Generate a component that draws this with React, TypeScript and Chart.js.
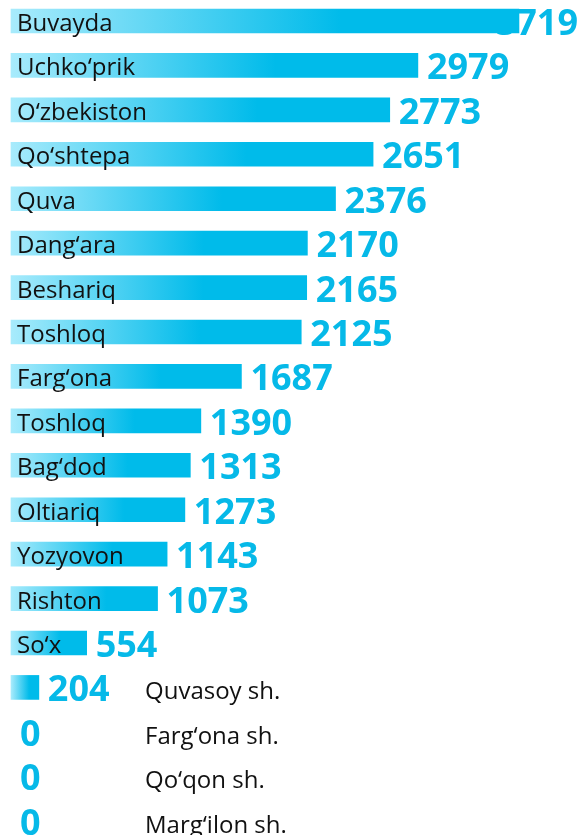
import React, { useEffect, useRef } from "react";
import { Chart, registerables } from "chart.js";

Chart.register(...registerables);

const categories = [
  "Buvayda",
  "Uchko‘prik",
  "O‘zbekiston",
  "Qo‘shtepa",
  "Quva",
  "Dang‘ara",
  "Beshariq",
  "Toshloq",
  "Farg‘ona",
  "Toshloq",
  "Bag‘dod",
  "Oltiariq",
  "Yozyovon",
  "Rishton",
  "So‘x",
  "Quvasoy sh.",
  "Farg‘ona sh.",
  "Qo‘qon sh.",
  "Marg‘ilon sh.",
];

const values = [3719, 2979, 2773, 2651, 2376, 2170, 2165, 2125, 1687, 1390, 1313, 1273, 1143, 1073, 554, 204, 0, 0, 0];

const X_MAX = 4100;
const LIGHT = "#a8ebfc";
const CYAN = "#00bbea";
const VALUE_COLOR = "#06b9e8";
const VALUE_FONT = "bold 36px 'Open Sans', 'Noto Sans', sans-serif";
const LABEL_FONT = "24px 'Open Sans', 'Noto Sans', sans-serif";

const labelPlugin = {
  id: "barLabels",
  beforeDatasetsDraw(chart: any) {
    const { ctx, scales, width } = chart;
    ctx.save();
    ctx.font = VALUE_FONT;
    ctx.fillStyle = VALUE_COLOR;
    ctx.textAlign = "left";
    ctx.textBaseline = "alphabetic";
    values.forEach((v, i) => {
      const end = scales.x.getPixelForValue(v);
      const y = scales.y.getPixelForValue(i);
      const text = String(v);
      const w = ctx.measureText(text).width;
      let x = end + 9;
      if (x + w > width - 4) x = width - 4 - w;
      ctx.fillText(text, x, y + 14);
    });
    ctx.restore();
  },
  afterDatasetsDraw(chart: any) {
    const { ctx, scales } = chart;
    ctx.save();
    ctx.font = LABEL_FONT;
    ctx.fillStyle = "#111111";
    ctx.textAlign = "left";
    ctx.textBaseline = "alphabetic";
    categories.forEach((label, i) => {
      const x0 = scales.x.getPixelForValue(0);
      const x1 = scales.x.getPixelForValue(values[i]);
      const y = scales.y.getPixelForValue(i);
      const w = ctx.measureText(label).width;
      const inside = x1 - x0 >= w * 0.6 + 10;
      ctx.fillText(label, inside ? x0 + 6 : 145, y + (inside ? 10 : 12));
    });
    ctx.restore();
  },
};

function barFill(c: any) {
  const chart = c.chart;
  const sx = chart && chart.scales && chart.scales.x;
  if (!sx || c.type !== "data") return CYAN;
  const v = values[c.dataIndex];
  if (!v) return "rgba(0,0,0,0)";
  const x0 = sx.getPixelForValue(0);
  const x1 = sx.getPixelForValue(v);
  if (!isFinite(x0) || !isFinite(x1) || x1 - x0 < 1) return CYAN;
  const g = chart.ctx.createLinearGradient(x0, 0, x1, 0);
  g.addColorStop(0, LIGHT);
  g.addColorStop(0.65, CYAN);
  g.addColorStop(1, CYAN);
  return g;
}

export default function App() {
  const ref = useRef<HTMLCanvasElement | null>(null);

  useEffect(() => {
    if (!ref.current) return;
    const chart = new Chart(ref.current, {
      type: "bar",
      data: {
        labels: categories,
        datasets: [
          {
            data: values,
            barThickness: 24,
            clip: false as any,
            borderWidth: 0,
            backgroundColor: barFill,
          },
        ],
      },
      options: {
        indexAxis: "y",
        animation: false,
        responsive: false,
        maintainAspectRatio: false,
        events: [],
        layout: { padding: { left: 11, right: 11, top: 21, bottom: 14.3 } },
        plugins: {
          legend: { display: false },
          tooltip: { enabled: false },
          title: { display: false },
        },
        scales: {
          x: { type: "linear", min: 0, max: X_MAX, display: false },
          y: { type: "category", offset: false, display: false },
        },
      },
      plugins: [labelPlugin],
    });
    return () => chart.destroy();
  }, []);

  return (
    <div style={{ position: "absolute", left: 0, top: 0, width: 582, height: 835, background: "#ffffff" }}>
      <canvas ref={ref} width={582} height={835} style={{ display: "block", width: 582, height: 835 }} />
    </div>
  );
}
